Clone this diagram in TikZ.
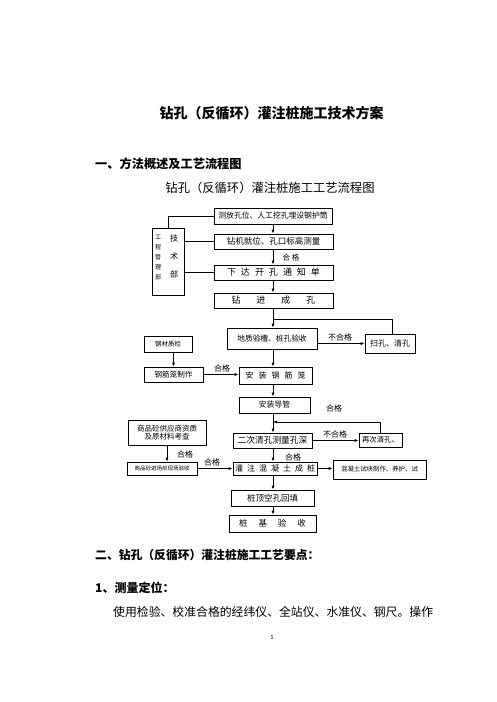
\documentclass[tikz,border=0pt]{standalone}
\usepackage{fontspec}
\setmainfont{Noto Sans CJK SC}
\usetikzlibrary{arrows.meta}
\newcommand{\fz}[1]{\fontsize{#1}{#1}\selectfont}
\newcommand{\gp}[1]{\hspace{#1}}
\begin{document}
\begin{tikzpicture}[x=1pt,y=-1pt,
  bx/.style={draw,line width=0.8pt,inner sep=0pt,align=center},
  ln/.style={line width=0.8pt},
  arr/.style={line width=0.8pt,-{Latex[length=4pt,width=3.2pt]}},
  lab/.style={inner sep=0pt,font=\fz{7.5}},
  txt/.style={inner sep=0pt,anchor=west}]
\useasboundingbox (0,0) rectangle (496,702);
\fill[white] (0,0) rectangle (496,702);

% headings
\node[inner sep=0pt,font=\fz{14}\bfseries] (title) at (271.5,113) {钻孔（反循环）灌注桩施工技术方案};
\node[txt,font=\fz{12.2}\bfseries] (h1) at (95,164) {一、方法概述及工艺流程图};
\node[inner sep=0pt,font=\fz{12.3}] (sub) at (270,188) {钻孔（反循环）灌注桩施工工艺流程图};

% flow boxes
\node[bx,minimum width=118pt,minimum height=16pt,font=\fz{7.8}] (b1) at (273,216) {测放孔位、人工挖孔埋设钢护筒};
\node[bx,minimum width=119pt,minimum height=15pt,font=\fz{8.5}] (b2) at (273.5,241.5) {钻机就位、孔口标高测量};
\node[bx,minimum width=119pt,minimum height=15pt,font=\fz{9}] (b3) at (273.5,272.5) {下\gp{5pt}达\gp{5pt}开\gp{5pt}孔\gp{5pt}通\gp{5pt}知\gp{5pt}单};
\node[bx,minimum width=119pt,minimum height=15pt,font=\fz{9}] (b4) at (273.5,300.5) {钻\gp{16pt}进\gp{16pt}成\gp{16pt}孔};
\node[bx,minimum width=32pt,minimum height=67pt] (mg) at (168,261.5) {};
\node[inner sep=0pt,font=\fz{6},align=center] (mgl) at (158,258) {工\\[4pt]程\\[4pt]管\\[4pt]理\\[4pt]部};
\node[inner sep=0pt,font=\fz{8},align=center] (mgr) at (174,256) {技\\[10pt]术\\[10pt]部};

\node[bx,minimum width=90pt,minimum height=21pt,font=\fz{7.7}] (geo) at (272,338.5) {地质验槽、桩孔验收};
\node[bx,minimum width=50pt,minimum height=19pt,font=\fz{8}] (sao) at (390,343.5) {扫孔、清孔};
\node[bx,minimum width=48pt,minimum height=16pt,font=\fz{6.5}] (gc) at (168,344) {钢材质检};
\node[bx,minimum width=59pt,minimum height=15pt,font=\fz{7.6}] (gjl) at (173.5,374.5) {钢筋笼制作};
\node[bx,minimum width=73pt,minimum height=17pt,font=\fz{8}] (az) at (275.5,375.5) {安\gp{5pt}装\gp{5pt}钢\gp{5pt}筋\gp{5pt}笼};
\node[bx,minimum width=71pt,minimum height=16pt,font=\fz{7.8}] (dg) at (274.5,405) {安装导管};
\node[bx,minimum width=78pt,minimum height=25pt,font=\fz{7.5}] (spb) at (167,432.5) {商品砼供应商资质\\及原材料考查};
\node[bx,minimum width=70pt,minimum height=13pt,font=\fz{5.5}] (spjc) at (162,468.5) {商品砼进场前现场验收};
\node[bx,minimum width=79pt,minimum height=15pt,font=\fz{8.7}] (ec) at (272.5,440.5) {二次清孔测量孔深};
\node[bx,minimum width=43pt,minimum height=14pt,font=\fz{7.4}] (zc) at (380.5,440) {再次清孔、};
\node[bx,minimum width=84pt,minimum height=13pt,font=\fz{8}] (gz) at (275,468.5) {灌\gp{4pt}注\gp{4pt}混\gp{4pt}凝\gp{4pt}土\gp{4pt}成\gp{4pt}桩};
\node[bx,minimum width=93pt,minimum height=19pt,font=\fz{6.4}] (hnt) at (379.5,469.5) {混凝土试块制作、养护、试};
\node[bx,minimum width=83pt,minimum height=16pt,font=\fz{8.5}] (zd) at (272.5,498) {桩顶空孔回填};
\node[bx,minimum width=87pt,minimum height=17pt,font=\fz{8.5}] (zj) at (272.5,523.5) {桩\gp{11pt}基\gp{11pt}验\gp{11pt}收};

% labels
\node[lab] (l1) at (291,258) {合\gp{2pt}格};
\node[lab,font=\fz{8}] (l2) at (340,337) {不合格};
\node[lab,font=\fz{8}] (l3) at (222,368) {合格};
\node[lab,font=\fz{8}] (l4) at (334,408) {合格};
\node[lab,font=\fz{8}] (l5) at (335,434) {不合格};
\node[lab,font=\fz{8}] (l6) at (185,454) {合格};
\node[lab,font=\fz{8}] (l7) at (212,462) {合格};
\node[lab,font=\fz{8}] (l8) at (293,457) {合格};

% connectors
\coordinate (spine) at (273,0);
\coordinate (j1) at (273,319);
\coordinate (j2) at (273,422);
\draw[ln] (mg.north) |- (b1.west);
\draw[ln] (mg.east |- b2.west) -- (b2.west);
\draw[ln] (mg.east |- b3.west) -- (b3.west);
\draw[arr] (spine |- b1.south) -- (spine |- b2.north);
\draw[arr] (spine |- b2.south) -- (spine |- b3.north);
\draw[arr] (spine |- b3.south) -- (spine |- b4.north);
\draw[arr] (spine |- b4.south) -- (spine |- geo.north);
\draw[ln] ([xshift=2pt]sao.north) |- (j1);
\draw[arr] (sao.west -| geo.east) -- (sao.west);
\draw[arr] (gjl.north |- gc.south) -- (gjl.north);
\draw[arr] (gjl.east) -- (gjl.east -| az.west);
\draw[arr] (spine |- geo.south) -- (spine |- az.north);
\draw[arr] (spine |- az.south) -- (spine |- dg.north);
\draw[arr] (spine |- dg.south) -- (spine |- ec.north);
\draw[arr] (zc.north) |- (j2);
\draw[arr] (ec.east) -- (ec.east -| zc.west);
\draw[arr] (spine |- ec.south) -- (spine |- gz.north);
\draw[arr] (spb.south) -- (spb.south |- spjc.north);
\draw[arr] (spjc.east) -- (spjc.east -| gz.west);
\draw[arr] (gz.east) -- (gz.east -| hnt.west);
\draw[arr] (spine |- gz.south) -- (spine |- zd.north);
\draw[arr] (spine |- zd.south) -- (spine |- zj.north);

% lower text
\node[txt,font=\fz{11.8}\bfseries] (h2) at (95,555) {二、钻孔（反循环）灌注桩施工工艺要点：};
\node[txt,font=\fz{12}\bfseries] (h3) at (95,588) {1、测量定位：};
\node[txt,font=\fz{11.85}] (body) at (113,612) {使用检验、校准合格的经纬仪、全站仪、水准仪、钢尺。操作};
\node[inner sep=0pt,font=\fz{6}] (pg) at (272,637) {1};
\end{tikzpicture}
\end{document}
